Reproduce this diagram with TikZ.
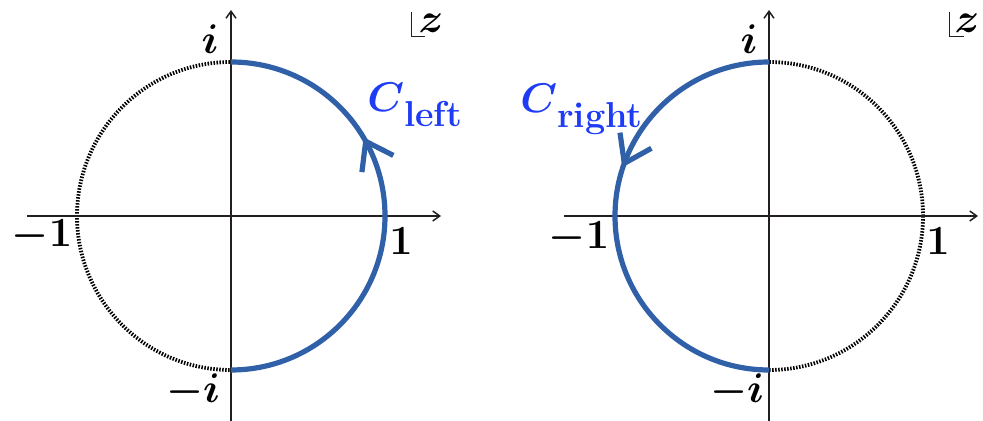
\documentclass[tikz,border=0pt]{standalone}
\usepackage{amsmath}
\usetikzlibrary{arrows.meta,calc}
\definecolor{arcblue}{RGB}{48,96,168}
\definecolor{lblblue}{RGB}{30,60,245}
\definecolor{axisc}{RGB}{35,31,32}
\begin{document}
\begin{tikzpicture}[x=0.5pt,y=0.5pt,
  axisline/.style={draw=axisc,line width=0.75pt,-{Straight Barb[length=3.5pt,width=5pt]}},
  unitcirc/.style={draw=black,line width=1.9pt,dash pattern=on 0.75pt off 0.75pt},
  contour/.style={draw=arcblue,line width=2.6pt},
  lbl/.style={inner sep=0pt,font=\fontsize{21}{24}\selectfont\boldmath},
  clbl/.style={inner sep=0pt,anchor=base west,text=lblblue},
  zmark/.style={draw=axisc,line width=0.5pt}]
\useasboundingbox (0,0) rectangle (983,421);
% ---------- left panel ----------
\coordinate (cL) at (231,205);
\coordinate (xLs) at (27,205);
\coordinate (xLe) at (441,205);
\coordinate (yLs) at (231,0);
\coordinate (yLe) at (231,411);
\draw[unitcirc] (cL) circle[radius=154];
\draw[axisline] (xLs) -- (xLe);
\draw[axisline] (yLs) -- (yLe);
\draw[contour] ($(cL)+(0,154)$) arc[start angle=90,end angle=-90,radius=154];
\coordinate (vL) at ($(cL)+(29:154)$);
\draw[contour] (vL) -- ++(-97:31);
\draw[contour] (vL) -- ++(-27:31);
\node[lbl] (iL) at (210,382) {$i$};
\node[lbl] (miL) at (193,30) {$-i$};
\node[lbl] (m1L) at (42,185) {$-1$};
\node[lbl] (p1L) at (401,180) {$1$};
\node[clbl] (CL) at (367,309) {\fontsize{22.5}{24}\selectfont$\boldsymbol{C}$\raisebox{-7.5pt}{\fontsize{18}{20}\selectfont\bfseries left}};
\coordinate (zL1) at (411,409);
\coordinate (zL2) at (411,384);
\coordinate (zL3) at (425,384);
\draw[zmark] (zL1) -- (zL2) -- (zL3);
\node[lbl,font=\fontsize{20}{22}\selectfont\boldmath] (zL) at (431,398) {$z$};
% ---------- right panel ----------
\coordinate (cR) at (769,205);
\coordinate (xRs) at (564,205);
\coordinate (xRe) at (978,205);
\coordinate (yRs) at (769,0);
\coordinate (yRe) at (769,411);
\draw[unitcirc] (cR) circle[radius=154];
\draw[axisline] (xRs) -- (xRe);
\draw[axisline] (yRs) -- (yRe);
\draw[contour] ($(cR)+(0,154)$) arc[start angle=90,end angle=270,radius=154];
\coordinate (vR) at ($(cR)+(160:154)$);
\draw[contour] (vR) -- ++(98:31);
\draw[contour] (vR) -- ++(29:31);
\node[lbl] (iR) at (749,382) {$i$};
\node[lbl] (miR) at (737,30) {$-i$};
\node[lbl] (m1R) at (579,183) {$-1$};
\node[lbl] (p1R) at (938,180) {$1$};
\node[clbl] (CR) at (520,308) {\fontsize{22.5}{24}\selectfont$\boldsymbol{C}$\raisebox{-7.5pt}{\fontsize{18}{20}\selectfont\bfseries right}};
\coordinate (zR1) at (949,409);
\coordinate (zR2) at (949,384);
\coordinate (zR3) at (964,384);
\draw[zmark] (zR1) -- (zR2) -- (zR3);
\node[lbl,font=\fontsize{20}{22}\selectfont\boldmath] (zR) at (967,398) {$z$};
\end{tikzpicture}
\end{document}
